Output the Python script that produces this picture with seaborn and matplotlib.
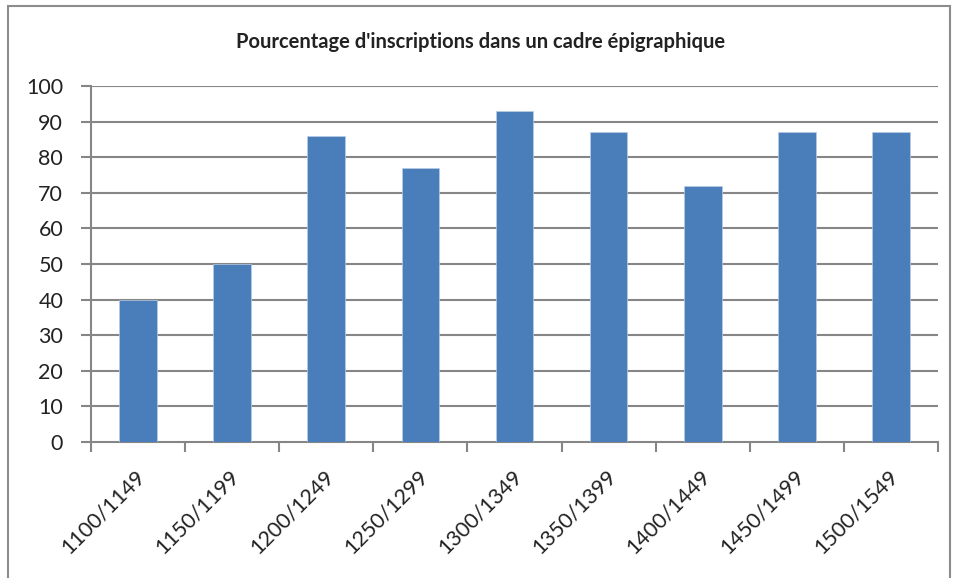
import matplotlib
matplotlib.use("Agg")
import matplotlib.pyplot as plt
import matplotlib.transforms as mtransforms
from matplotlib.patches import Rectangle
import seaborn as sns
import pandas as pd

categories = ["1100/1149", "1150/1199", "1200/1249", "1250/1299", "1300/1349",
              "1350/1399", "1400/1449", "1450/1499", "1500/1549"]
values = [40, 50, 86, 77, 93, 87, 72, 87, 87]
yticks = [0, 10, 20, 30, 40, 50, 60, 70, 80, 90, 100]
title = "Pourcentage d'inscriptions dans un cadre épigraphique"

sns.set_style("white")
plt.rcParams['font.family'] = ['Lato', 'DejaVu Sans']

df = pd.DataFrame({"periode": categories, "pct": values})

fig = plt.figure(figsize=(9.55, 5.78), dpi=100)
ax = fig.add_axes([91/955, 1 - 442/578, (938-91)/955, (442-86)/578])

sns.barplot(data=df, x="periode", y="pct", color="#4A7EBB", width=0.4,
            saturation=1, ax=ax, zorder=3, edgecolor="#B9CDE5", linewidth=0.5)

grid_c = "#868686"
ax.set_ylim(0, 100)
ax.set_xlim(-0.5, len(categories) - 0.5)
ax.set_yticks(yticks)
ax.set_yticklabels([str(t) for t in yticks], fontsize=15.5, color="#222222")
for t in yticks[1:]:
    ax.axhline(t, color=grid_c, lw=1.5, zorder=1)
ax.set_xlabel("")
ax.set_ylabel("")

for s in ["top", "right"]:
    ax.spines[s].set_visible(False)
ax.spines["left"].set_color(grid_c)
ax.spines["left"].set_linewidth(1.5)
ax.spines["bottom"].set_color(grid_c)
ax.spines["bottom"].set_linewidth(1.5)

ax.tick_params(axis="y", which="major", length=7, width=1.5, color=grid_c,
               direction="out", pad=13, left=True)
# x ticks at category boundaries
ax.set_xticks([i - 0.5 for i in range(len(categories) + 1)], minor=False)
ax.set_xticklabels([""] * (len(categories) + 1))
ax.tick_params(axis="x", which="major", length=7, width=1.5, color=grid_c,
               direction="out", bottom=True)
ax.set_xticks(range(len(categories)), minor=True)
ax.set_xticklabels(categories, minor=True, fontsize=15.5, color="#222222",
                   rotation=45, ha="right", va="center", rotation_mode="anchor")
ax.tick_params(axis="x", which="minor", length=0, pad=10)
offset = mtransforms.ScaledTranslation(4/100, -17/100, fig.dpi_scale_trans)
for lab in ax.get_xticklabels(minor=True):
    lab.set_transform(lab.get_transform() + offset)

fig.text(481/955, 1 - 42/578, title, ha="center", va="center",
         fontsize=14.5, fontweight="bold", color="#222222")

fig.patches.append(Rectangle((8/955, -0.05), (950-8)/955, 1 - 6/578 + 0.05,
                             transform=fig.transFigure, fill=False,
                             edgecolor="#8C8C8C", lw=1.5))

fig.savefig("out.png", dpi=100)
